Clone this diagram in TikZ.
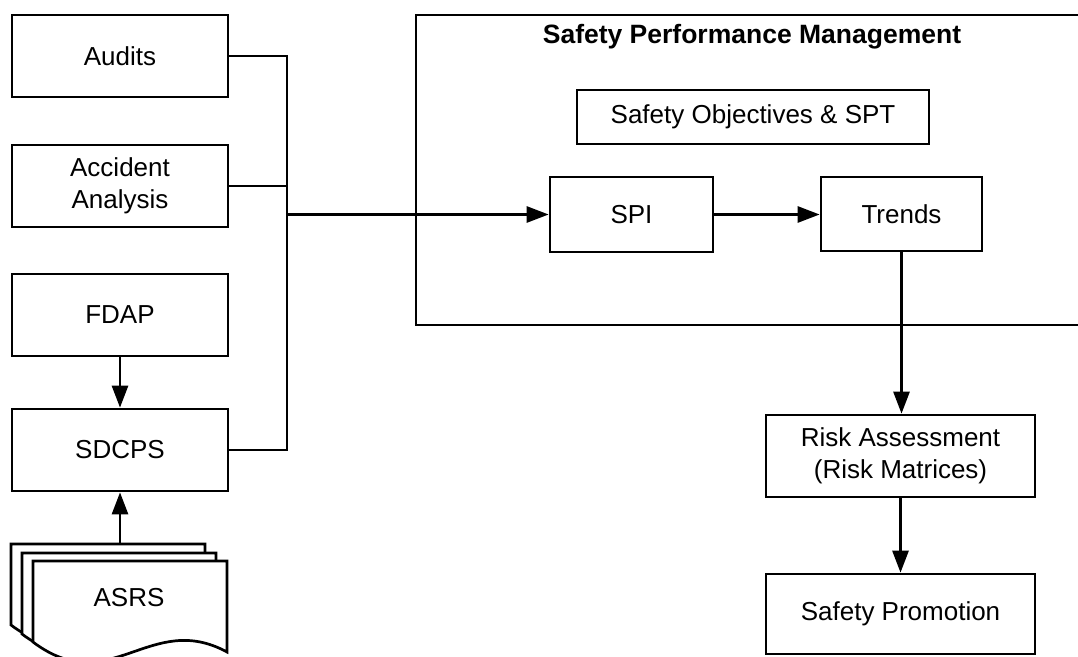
\documentclass[tikz,border=0pt]{standalone}
\usepackage{fontspec}
\setmainfont{Liberation Sans}
\usetikzlibrary{arrows.meta}
\begin{document}
\begin{tikzpicture}[x=1pt,y=-1pt,
  every node/.style={font=\fontsize{26}{32}\selectfont},
  box/.style={draw, line width=2.7pt, inner sep=0pt, align=center},
  link/.style={line width=2.7pt},
  arrow/.style={link, -{Triangle[length=22pt,width=16pt]}},
  sheet/.style={draw, fill=white, line width=2.7pt, line join=miter}
]
\useasboundingbox (0,0) rectangle (1078,656);

% data sources
\node[box, minimum width=216pt, minimum height=82pt] (audits) at (120,56) {Audits};
\node[box, minimum width=216pt, minimum height=82pt] (accident) at (120,186) {Accident\\Analysis};
\node[box, minimum width=216pt, minimum height=82pt] (fdap) at (120,315) {FDAP};
\node[box, minimum width=216pt, minimum height=82pt] (sdcps) at (120,450) {SDCPS};

% ASRS report stack (three sheets, back to front)
\foreach \dx/\dy in {-22/-17, -11/-8, 0/0}{
  \draw[sheet, shift={(\dx,\dy)}] (33,642) -- (33,561) -- (227,561) -- (227,652)
    .. controls (150,610) and (110,700) .. (33,642) -- cycle;
}
\node (asrs) at (129,598) {ASRS};
\coordinate (asrstop) at (120,544);

% safety performance management frame
\draw[link] (416,15) rectangle (1090,325);
\node[font=\bfseries\fontsize{26.5}{32}\selectfont, anchor=base] (title) at (752,43) {Safety Performance Management};
\node[box, minimum width=352pt, minimum height=54pt] (objectives) at (753,117) {Safety Objectives \& SPT};
\node[box, minimum width=163pt, minimum height=75pt] (spi) at (631.5,214.5) {SPI};
\node[box, minimum width=161pt, minimum height=74pt] (trends) at (901.5,214) {Trends};

% downstream steps
\node[box, minimum width=269pt, minimum height=82pt] (risk) at (900.5,456) {Risk Assessment\\(Risk Matrices)};
\node[box, minimum width=269pt, minimum height=80pt] (promotion) at (900.5,614) {Safety Promotion};

% collector bus
\coordinate (busx) at (287,0);
\coordinate (bus) at (busx |- spi.west);
\draw[link] (audits.east) -| (busx |- sdcps.east) -- (sdcps.east);
\draw[link] (accident.east) -- (accident.east -| busx);
\draw[arrow] (bus) -- (spi.west);
\draw[arrow] (spi.east) -- (spi.east -| trends.west);
\draw[arrow] (trends.south) -- (trends.south |- risk.north);
\draw[arrow] (risk.south) -- (risk.south |- promotion.north);
\draw[arrow] (fdap.south) -- (sdcps.north);
\draw[arrow] (asrstop) -- (sdcps.south);
\end{tikzpicture}
\end{document}
